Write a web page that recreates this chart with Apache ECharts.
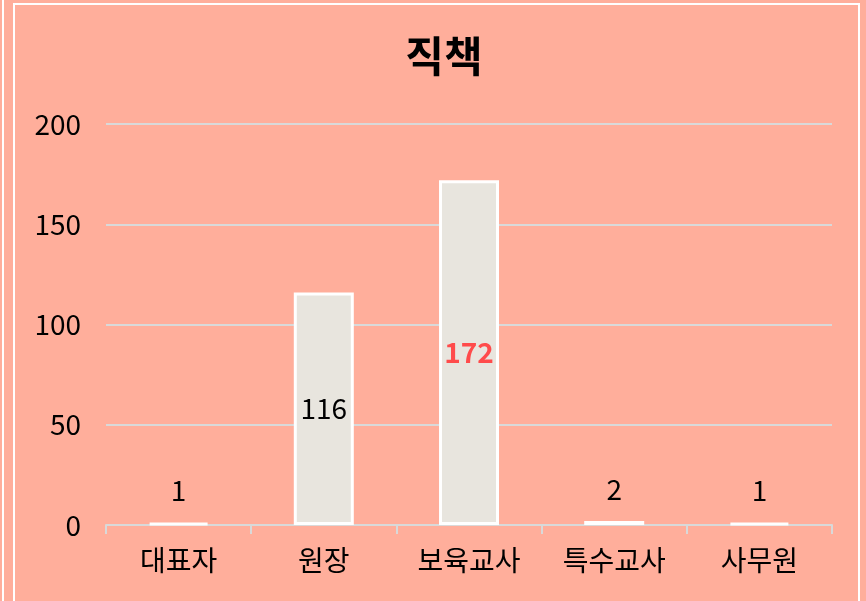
<!DOCTYPE html>
<html>
<head>
<meta charset="utf-8">
<script src="https://cdn.jsdelivr.net/npm/echarts@6/dist/echarts.min.js"></script>
<style>
  html, body { margin: 0; padding: 0; background: #FFAE9B; }
  #chart { width: 866px; height: 601px; }
</style>
</head>
<body>
<div id="chart"></div>
<script>
// 직책별 인원
const categories = ['대표자', '원장', '보육교사', '특수교사', '사무원']
const values = [1, 116, 172, 2, 1]
const yTicks = [0, 50, 100, 150, 200]

const font = '"Noto Sans CJK KR", "Noto Sans", sans-serif'
const maxVal = Math.max(...values)

var chartDom = document.getElementById('chart');
var myChart = echarts.init(chartDom);

// 큰 막대는 가운데, 작은 막대는 위쪽에 레이블
const seriesData = values.map(function (v) {
    return {
        value: v,
        label: {
            position: v > 20 ? 'inside' : 'top',
            distance: 18,
            color: v === maxVal ? '#FF4B4B' : '#000000',
            fontWeight: v === maxVal ? 'bold' : 'normal'
        }
    }
})

var option = {
    backgroundColor: '#FFAE9B',
    animation: false,
    graphic: [
        { type: 'rect', shape: { x: 14, y: 4, width: 845, height: 620 }, style: { fill: 'none', stroke: '#FFFFFF', lineWidth: 2 } },
        { type: 'line', shape: { x1: 3, y1: 0, x2: 3, y2: 601 }, style: { stroke: '#FFFFFF', lineWidth: 2 } }
    ],
    title: {
        text: '직책',
        left: 439,
        top: 30,
        textAlign: 'center',
        textStyle: { fontFamily: font, fontSize: 42, fontWeight: 'bold', color: '#000000' }
    },
    grid: { left: 106, right: 34, top: 124, bottom: 76 },
    xAxis: {
        type: 'category',
        data: categories,
        axisLine: { lineStyle: { color: '#D9D9D9', width: 2 } },
        axisTick: { show: true, length: 9, lineStyle: { color: '#D9D9D9', width: 2 } },
        axisLabel: { fontFamily: font, fontSize: 28, color: '#000000', margin: 21 }
    },
    yAxis: {
        type: 'value',
        min: yTicks[0],
        max: yTicks[yTicks.length - 1],
        interval: yTicks[1] - yTicks[0],
        axisLine: { show: false },
        axisTick: { show: false },
        splitLine: { lineStyle: { color: '#D9D9D9', width: 2 } },
        axisLabel: { fontFamily: font, fontSize: 28, color: '#000000', margin: 25 }
    },
    series: [
        {
            name: '직책',
            type: 'bar',
            data: seriesData,
            barWidth: 60,
            itemStyle: { color: '#E8E5DE', borderColor: '#FFFFFF', borderWidth: 3 },
            label: { show: true, fontFamily: font, fontSize: 28 }
        }
    ]
};

option && myChart.setOption(option);
</script>
</body>
</html>
